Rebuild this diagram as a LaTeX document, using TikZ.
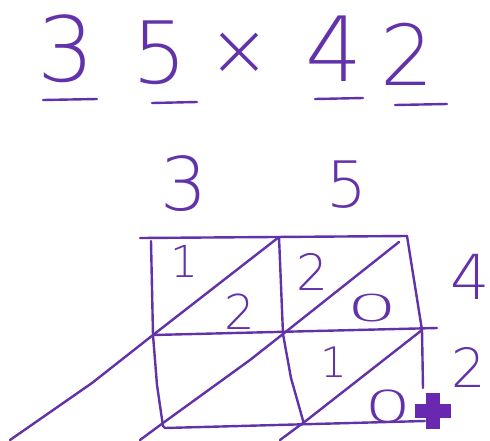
\documentclass[tikz,border=0pt]{standalone}
\usepackage{fontspec}
\usepackage{graphicx}
\newfontfamily\handfont{DejaVu Sans ExtraLight}
\usetikzlibrary{calc,positioning}
\definecolor{ink}{RGB}{98,50,170}
\definecolor{cursorink}{RGB}{104,40,176}

\begin{document}
\begin{tikzpicture}[x=1pt, y=-1pt,
  pen/.style={draw=ink, line width=2.4pt, line cap=round, line join=round},
  digit/.style={text=ink, inner sep=0pt,
    font=\handfont\fontsize{#1}{#1}\selectfont},
]
  \path[use as bounding box, fill=white] (0,0) rectangle (490,440);

  % the problem
  \node[digit=90] (a3) at (66,49) {3};
  \node[digit=86] (a5) at (160,53) {5};
  \node[digit=74] (times) at (239,54) {×};
  \node[digit=90] (b4) at (334,49) {4};
  \node[digit=84] (b2) at (407,54) {2};
  \draw[pen] (43,100) -- (97,99);
  \draw[pen] (152,103) -- (197,102);
  \draw[pen] (315,99) -- (363,98);
  \draw[pen] (395,105) -- (447,104);

  % digits along the top and the side
  \node[digit=74] (t3) at (184,184) {3};
  \node[digit=64] (t5) at (347,185) {5};
  \node[digit=62] (s4) at (470,277) {4};
  \node[digit=54] (s2) at (469,367) {2};

  % grid corners
  \coordinate (tl) at (151,241);
  \coordinate (tm) at (279,237);
  \coordinate (tr) at (407,236);
  \coordinate (ml) at (153,335);
  \coordinate (mm) at (283,334);
  \coordinate (mr) at (422,330);
  \coordinate (bl) at (163,426);
  \coordinate (bm) at (304,424);
  \coordinate (br) at (423,388);

  \draw[pen] (140,238) -- (tr);
  \draw[pen] (ml) -- (437,328);
  \draw[pen] (bl) -- (165,428) -- (425,421);
  \draw[pen] (tl) -- (ml) -- (157,385) -- (bl);
  \draw[pen] (tm) -- (mm) -- (291,378) -- (bm);
  \draw[pen] (tr) -- (mr) -- (br);

  % diagonals
  \draw[pen] (10,440) -- (92,383) -- (ml) -- (tm);
  \draw[pen] (140,440) -- (163,423) -- (250,360) -- (mm) -- (399,242);
  \draw[pen] (280,440) -- (307,420) -- (mr);

  % partial products
  \node[digit=44] (c11) at (184,261) {1};
  \node[digit=48] (c12) at (240,312) {2};
  \node[digit=50] (c21) at (312,272) {2};
  \node[digit=37] (c22) at (372,308) {\scalebox{2.2}[1]{0}};
  \node[digit=42] (c41) at (334,362) {1};
  \node[digit=44] (c42) at (388,406) {\scalebox{1.7}[1]{0}};

  % cursor
  \fill[cursorink] (415,404) rectangle (451,418);
  \fill[cursorink] (426,393) rectangle (440,429);
\end{tikzpicture}
\end{document}
